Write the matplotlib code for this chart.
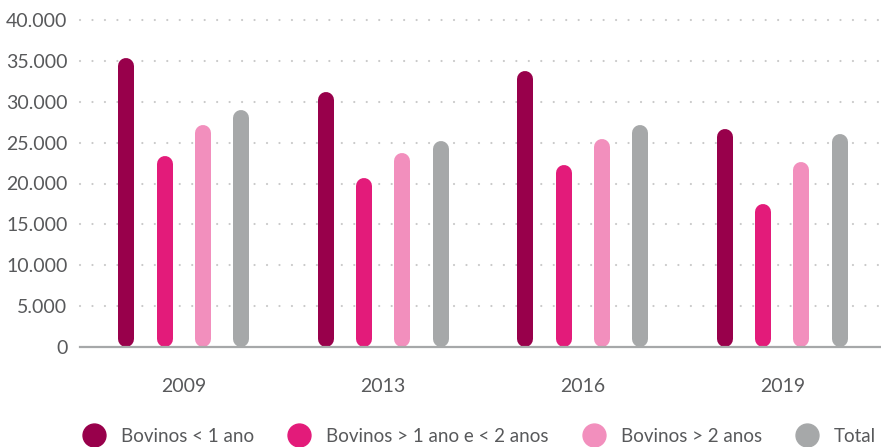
import matplotlib.pyplot as plt
from matplotlib.lines import Line2D
from matplotlib.ticker import FuncFormatter
import numpy as np

# dados (efetivo bovino)
anos = ["2009", "2013", "2016", "2019"]
series = ["Bovinos < 1 ano", "Bovinos > 1 ano e < 2 anos", "Bovinos > 2 anos", "Total"]
menos_1 = [35400, 31200, 33800, 26700]
entre_1_2 = [23400, 20700, 22300, 17500]
mais_2 = [27100, 23700, 25500, 22600]
total = [29000, 25200, 27200, 26000]

cores = ["#98004b", "#e31b7a", "#f28fbd", "#a6a8a9"]
texto = "#58595b"

plt.rcParams['font.family'] = ['Lato', 'DejaVu Sans']

fig = plt.figure(figsize=(8.81, 4.47), dpi=100)
ax = fig.add_axes([80 / 881, 100 / 447, 801 / 881, 327 / 447])
ax.set_xlim(-0.52, 3.495)
ax.set_ylim(0, 40000)

# largura das barras em pixels -> pontos
larg_px = 16
larg_pt = larg_px * 72 / fig.dpi
# raio do topo arredondado em unidades de dados
r = (larg_px / 2) * 40000 / (ax.get_position().height * fig.get_figheight() * fig.dpi)

x = np.arange(len(anos))
desloc = [-0.289, -0.096, 0.096, 0.289]
for vals, d, c in zip([menos_1, entre_1_2, mais_2, total], desloc, cores):
    for xi, v in zip(x, vals):
        ax.plot([xi + d, xi + d], [r, v - r], color=c, lw=larg_pt,
                solid_capstyle='round', zorder=3)

ax.set_yticks(np.arange(0, 40001, 5000))
ax.yaxis.set_major_formatter(FuncFormatter(lambda v, p: f"{int(v):,}".replace(",", ".")))
ax.set_xticks(x)
ax.set_xticklabels(anos)
ax.tick_params(axis='both', length=0, labelsize=14, labelcolor=texto)
ax.tick_params(axis='y', pad=9)
ax.tick_params(axis='x', pad=22)

for v in np.arange(5000, 40001, 5000):
    ax.axhline(v, color="#c9c9c9", lw=1.6, linestyle=(0, (0.01, 5.6)),
               dash_capstyle='round', zorder=1, clip_on=False)

for s in ['top', 'right', 'left']:
    ax.spines[s].set_visible(False)
ax.spines['bottom'].set_color("#a6a8a9")
ax.spines['bottom'].set_linewidth(1.6)
ax.spines['bottom'].set_zorder(4)

handles = [Line2D([], [], marker='o', linestyle='', markersize=16.5,
                  markerfacecolor=c, markeredgecolor=c) for c in cores]
leg = fig.legend(handles, series, loc='center left', bbox_to_anchor=(66 / 881, 11 / 447),
                 ncol=4, frameon=False, fontsize=13.5, handletextpad=0.84,
                 columnspacing=1.8, handlelength=1.2, borderpad=0.4)
for t in leg.get_texts():
    t.set_color(texto)

fig.savefig("out.png", dpi=100)
